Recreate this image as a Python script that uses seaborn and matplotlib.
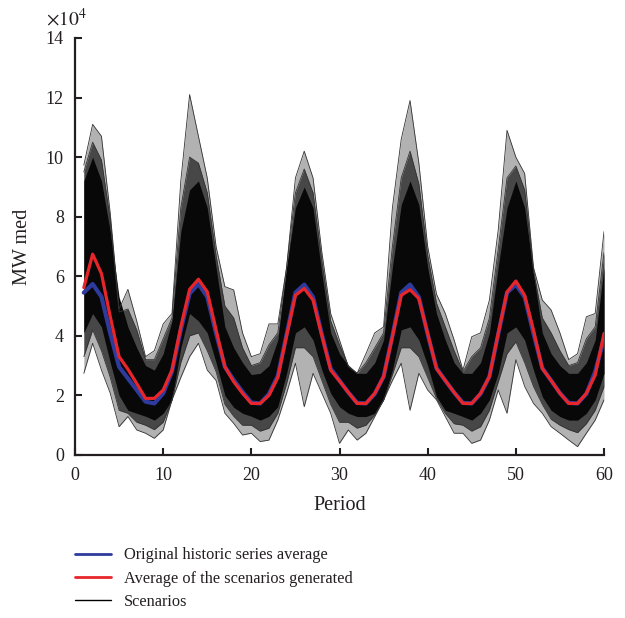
import numpy as np
import pandas as pd
import matplotlib
matplotlib.use("Agg")
import matplotlib.pyplot as plt
from matplotlib.ticker import FuncFormatter
import seaborn as sns

# Values in units of 10^4 MW med
period = list(range(1, 61))

historic_avg = [5.45, 5.74, 5.31, 4.08, 2.96, 2.57, 2.18, 1.79, 1.73, 2.07, 2.80, 4.20,
                5.42, 5.74, 5.31, 4.08, 2.96, 2.52, 2.12, 1.76, 1.73, 2.05, 2.65, 4.05,
                5.45, 5.72, 5.30, 4.05, 2.90, 2.50, 2.10, 1.75, 1.73, 2.05, 2.63, 4.00,
                5.45, 5.72, 5.30, 4.05, 2.92, 2.50, 2.10, 1.75, 1.73, 2.05, 2.63, 4.05,
                5.45, 5.72, 5.30, 4.08, 2.92, 2.50, 2.08, 1.75, 1.73, 2.05, 2.80, 3.90]

scen_avg = [5.62, 6.74, 6.09, 4.64, 3.30, 2.88, 2.40, 1.90, 1.90, 2.18, 2.85, 4.30,
            5.56, 5.90, 5.48, 4.20, 2.96, 2.46, 2.07, 1.73, 1.73, 2.00, 2.60, 4.00,
            5.36, 5.59, 5.20, 4.00, 2.85, 2.48, 2.10, 1.73, 1.73, 2.07, 2.63, 3.97,
            5.36, 5.55, 5.25, 4.08, 2.90, 2.50, 2.10, 1.73, 1.73, 2.07, 2.63, 4.08,
            5.47, 5.84, 5.36, 4.19, 2.90, 2.50, 2.07, 1.73, 1.73, 2.07, 2.68, 4.08]

# highest / lowest scenario at each period
scen_max = [9.73, 11.1, 10.7, 8.1, 4.9, 5.56, 4.5, 3.3, 3.5, 4.4, 4.75, 9.2,
            12.1, 10.7, 9.3, 7.0, 5.65, 5.54, 4.1, 3.3, 3.4, 4.4, 4.4, 6.3,
            9.3, 10.2, 9.3, 6.8, 4.75, 3.86, 2.96, 2.74, 3.4, 4.1, 4.3, 8.3,
            10.6, 11.9, 9.8, 7.0, 5.4, 4.75, 3.86, 2.85, 3.97, 4.1, 5.2, 7.55,
            10.9, 10.0, 9.45, 6.3, 5.2, 4.87, 4.1, 3.2, 3.4, 4.64, 4.75, 7.5]

scen_min = [2.74, 3.75, 2.85, 2.07, 0.95, 1.29, 0.84, 0.73, 0.56, 0.84, 1.85, 2.6,
            3.3, 3.75, 2.85, 2.5, 1.4, 1.06, 0.67, 0.73, 0.45, 0.5, 1.17, 2.07,
            3.08, 1.62, 2.74, 2.07, 1.4, 0.39, 0.84, 0.5, 0.73, 1.29, 1.85, 2.5,
            3.08, 1.5, 2.74, 2.18, 1.85, 1.29, 0.73, 0.73, 0.39, 0.5, 1.17, 2.18,
            1.4, 3.2, 2.3, 1.73, 1.4, 0.95, 0.73, 0.5, 0.28, 0.73, 1.17, 1.85]

# where the thin scenario lines are still close together
outer_hi = [9.5, 10.5, 9.9, 7.9, 4.8, 4.9, 4.2, 3.2, 3.2, 3.9, 4.6, 8.3,
            10.0, 9.8, 8.8, 6.7, 5.0, 4.6, 3.6, 3.0, 3.1, 3.7, 4.1, 6.3,
            8.8, 9.6, 8.8, 6.5, 4.5, 3.7, 3.0, 2.74, 3.1, 3.6, 4.1, 7.0,
            9.3, 10.2, 9.1, 6.7, 5.1, 4.3, 3.5, 2.8, 3.3, 3.6, 4.6, 6.9,
            9.3, 9.7, 8.9, 6.2, 4.6, 4.1, 3.5, 3.0, 3.1, 3.9, 4.3, 6.8]

outer_lo = [3.3, 4.2, 3.5, 2.6, 1.5, 1.4, 1.1, 1.0, 0.85, 1.1, 1.85, 3.1,
            4.0, 4.1, 3.5, 2.8, 1.7, 1.3, 1.0, 1.0, 0.8, 0.9, 1.4, 2.4,
            3.6, 3.6, 3.3, 2.5, 1.7, 1.1, 1.1, 0.9, 1.0, 1.35, 1.85, 2.7,
            3.6, 3.6, 3.3, 2.6, 1.9, 1.4, 1.05, 1.0, 0.8, 0.95, 1.5, 2.45,
            3.4, 3.8, 3.1, 2.3, 1.7, 1.2, 1.0, 0.85, 0.75, 1.05, 1.5, 2.3]

# limits of the dense (solid black) bundle of scenarios
dense_hi = [9.2, 10.0, 9.2, 7.5, 5.3, 4.3, 3.6, 3.0, 2.85, 3.4, 4.5, 7.5,
            8.9, 9.2, 8.3, 6.3, 4.3, 3.6, 3.1, 2.7, 2.74, 3.0, 3.86, 6.3,
            8.3, 9.0, 8.3, 6.1, 4.1, 3.4, 3.0, 2.74, 2.74, 3.1, 3.86, 6.3,
            8.4, 9.2, 8.4, 6.3, 4.75, 3.86, 3.1, 2.74, 2.74, 3.1, 4.1, 6.3,
            8.3, 9.2, 8.3, 6.1, 4.1, 3.4, 3.0, 2.74, 2.74, 3.1, 3.86, 6.3]

dense_lo = [4.1, 4.75, 4.3, 3.1, 2.0, 1.5, 1.4, 1.3, 1.17, 1.4, 1.85, 3.6,
            4.75, 4.5, 4.1, 3.1, 2.0, 1.6, 1.4, 1.3, 1.17, 1.3, 1.62, 2.74,
            4.1, 4.3, 3.86, 2.85, 2.07, 1.62, 1.4, 1.29, 1.29, 1.4, 1.85, 2.85,
            4.2, 4.3, 3.86, 3.0, 1.96, 1.5, 1.4, 1.29, 1.17, 1.4, 1.85, 2.74,
            4.1, 4.3, 3.86, 2.85, 1.96, 1.5, 1.29, 1.17, 1.17, 1.4, 1.85, 2.74]

scale = 1e4
df = pd.DataFrame({
    "period": period,
    "historic": np.array(historic_avg) * scale,
    "average": np.array(scen_avg) * scale,
    "smax": np.array(scen_max) * scale,
    "smin": np.array(scen_min) * scale,
    "ohi": np.array(outer_hi) * scale,
    "olo": np.array(outer_lo) * scale,
    "dhi": np.array(dense_hi) * scale,
    "dlo": np.array(dense_lo) * scale,
})

sns.set_style("ticks")
plt.rcParams["font.family"] = ["Liberation Serif", "DejaVu Serif"]
plt.rcParams["mathtext.fontset"] = "stix"

fig = plt.figure(figsize=(6.25, 6.18), dpi=100)
ax = fig.add_axes([0.12, 0.2638, 0.8464, 0.6748])

# scenario cloud: sparse outer lines, darker fringe, solid core
ax.fill_between(df["period"], df["smin"], df["smax"], color="black", alpha=0.3, lw=0)
ax.fill_between(df["period"], df["olo"], df["ohi"], color="black", alpha=0.6, lw=0)
ax.fill_between(df["period"], df["dlo"], df["dhi"], color="#080808", lw=0)
for col in ["smax", "smin", "ohi", "olo"]:
    sns.lineplot(data=df, x="period", y=col, ax=ax, color="#333333", lw=0.6)

sns.lineplot(data=df, x="period", y="historic", ax=ax, color="#2e3b9c", lw=3.0)
sns.lineplot(data=df, x="period", y="average", ax=ax, color="#e8262a", lw=2.3)

ax.set_xlim(0, 60)
ax.set_ylim(0, 14e4)
ax.set_xticks(range(0, 61, 10))
ax.set_yticks(np.arange(0, 14.1e4, 2e4))
ax.yaxis.set_major_formatter(FuncFormatter(lambda v, p: f"{v / scale:g}"))
ax.text(-0.055, 1.02, r"$\times10^{4}$", transform=ax.transAxes,
        fontsize=14, ha="left", va="bottom", color="#231f20")

ax.set_xlabel("Period", fontsize=14.5, labelpad=8, color="#231f20")
ax.set_ylabel("MW med", fontsize=14.5, labelpad=10, color="#231f20")
ax.tick_params(direction="in", length=5, width=1.5, labelsize=13, colors="#231f20")
ax.tick_params(axis="x", pad=9)
ax.tick_params(axis="y", pad=8)
for s in ["left", "bottom"]:
    ax.spines[s].set_linewidth(1.6)
    ax.spines[s].set_color("#231f20")
sns.despine(ax=ax)

handles = [
    plt.Line2D([], [], color="#2e3b9c", lw=2),
    plt.Line2D([], [], color="#e8262a", lw=2),
    plt.Line2D([], [], color="black", lw=1),
]
labels = ["Original historic series average",
          "Average of the scenarios generated",
          "Scenarios"]
fig.legend(handles, labels, loc="upper left", bbox_to_anchor=(0.11, 0.125),
           frameon=False, fontsize=11.8, handlelength=2.15, handletextpad=0.8,
           labelspacing=0.45, borderaxespad=0, labelcolor="#231f20")

fig.savefig("out.png", dpi=100)
